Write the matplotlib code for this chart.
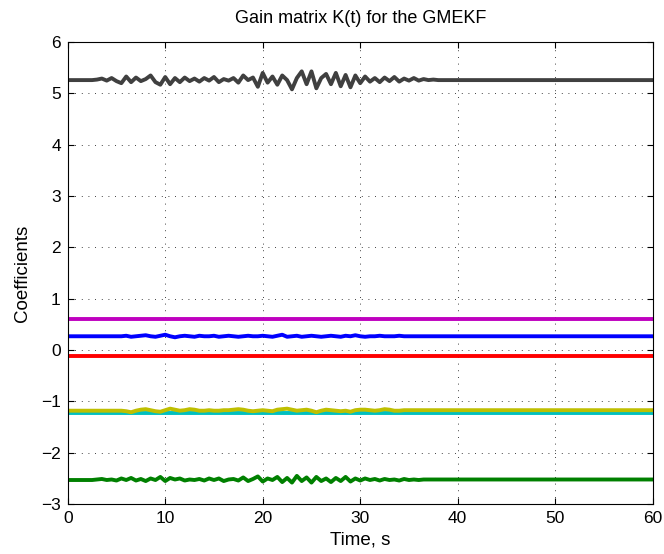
import matplotlib
matplotlib.use('Agg')
import matplotlib.pyplot as plt
import numpy as np

plt.rcParams['font.family'] = ['Liberation Sans', 'DejaVu Sans']

# time grid for the oscillating gains (0..40 s every 0.5 s, then 60 s)
t = list(np.arange(0, 40.5, 0.5)) + [60]

k_gray = [5.26, 5.26, 5.26, 5.26, 5.26, 5.26, 5.27, 5.29, 5.25, 5.30,
          5.24, 5.20, 5.33, 5.22, 5.31, 5.24, 5.28, 5.35, 5.22, 5.17,
          5.32, 5.18, 5.30, 5.22, 5.31, 5.24, 5.29, 5.23, 5.30, 5.25,
          5.32, 5.22, 5.28, 5.25, 5.30, 5.21, 5.35, 5.26, 5.31, 5.13,
          5.40, 5.21, 5.33, 5.17, 5.35, 5.26, 5.08, 5.30, 5.43, 5.18,
          5.43, 5.10, 5.30, 5.38, 5.18, 5.40, 5.14, 5.36, 5.12, 5.35,
          5.20, 5.33, 5.23, 5.30, 5.22, 5.31, 5.24, 5.32, 5.23, 5.29,
          5.25, 5.30, 5.25, 5.28, 5.26, 5.27, 5.26, 5.26, 5.26, 5.26,
          5.26, 5.26]

k_blue = [0.27, 0.27, 0.27, 0.27, 0.27, 0.27, 0.27, 0.27, 0.27, 0.27,
          0.27, 0.27, 0.28, 0.26, 0.27, 0.28, 0.29, 0.27, 0.26, 0.28,
          0.30, 0.27, 0.25, 0.27, 0.28, 0.27, 0.26, 0.28, 0.27, 0.27,
          0.28, 0.26, 0.27, 0.28, 0.27, 0.26, 0.27, 0.28, 0.27, 0.27,
          0.28, 0.27, 0.26, 0.28, 0.30, 0.26, 0.27, 0.28, 0.26, 0.27,
          0.28, 0.27, 0.26, 0.27, 0.28, 0.27, 0.26, 0.28, 0.27, 0.29,
          0.27, 0.26, 0.27, 0.27, 0.28, 0.27, 0.27, 0.27, 0.28, 0.27,
          0.27, 0.27, 0.27, 0.27, 0.27, 0.27, 0.27, 0.27, 0.27, 0.27,
          0.27, 0.27]

k_yellow = [-1.18, -1.18, -1.18, -1.18, -1.18, -1.18, -1.18, -1.18, -1.18, -1.18,
            -1.18, -1.18, -1.19, -1.21, -1.18, -1.16, -1.15, -1.17, -1.19, -1.20,
            -1.17, -1.14, -1.16, -1.18, -1.17, -1.15, -1.16, -1.18, -1.18, -1.17,
            -1.18, -1.18, -1.17, -1.17, -1.16, -1.15, -1.16, -1.18, -1.19, -1.18,
            -1.17, -1.18, -1.19, -1.16, -1.15, -1.14, -1.16, -1.18, -1.17, -1.16,
            -1.18, -1.21, -1.18, -1.16, -1.17, -1.18, -1.19, -1.18, -1.20, -1.17,
            -1.16, -1.16, -1.17, -1.18, -1.17, -1.15, -1.16, -1.18, -1.18, -1.17,
            -1.17, -1.17, -1.17, -1.17, -1.17, -1.17, -1.17, -1.17, -1.17, -1.17,
            -1.17, -1.17]

k_green = [-2.53, -2.53, -2.53, -2.53, -2.53, -2.53, -2.52, -2.51, -2.53, -2.52,
           -2.54, -2.50, -2.53, -2.49, -2.54, -2.51, -2.55, -2.50, -2.53, -2.47,
           -2.55, -2.49, -2.52, -2.50, -2.54, -2.52, -2.53, -2.51, -2.54, -2.50,
           -2.53, -2.50, -2.55, -2.52, -2.51, -2.54, -2.48, -2.55, -2.51, -2.46,
           -2.56, -2.50, -2.53, -2.47, -2.57, -2.49, -2.58, -2.45, -2.55, -2.48,
           -2.58, -2.47, -2.55, -2.50, -2.57, -2.49, -2.55, -2.47, -2.56, -2.50,
           -2.54, -2.50, -2.53, -2.51, -2.54, -2.51, -2.53, -2.52, -2.54, -2.51,
           -2.53, -2.52, -2.53, -2.52, -2.52, -2.52, -2.52, -2.52, -2.52, -2.52,
           -2.52, -2.52]

# constant gains
t_flat = [0, 60]
k_magenta = [0.60, 0.60]
k_red = [-0.12, -0.12]
k_cyan = [-1.23, -1.23]

fig = plt.figure(figsize=(6.64, 5.54), dpi=100)
ax = fig.add_axes([0.102, 0.090, 0.881, 0.834])

lw = 2.8
ax.plot(t, k_blue, color='#0000ff', lw=lw)
ax.plot(t, k_green, color='#008000', lw=lw)
ax.plot(t_flat, k_red, color='#ff0000', lw=lw)
ax.plot(t_flat, k_cyan, color='#00bfbf', lw=lw)
ax.plot(t_flat, k_magenta, color='#bf00bf', lw=lw)
ax.plot(t, k_yellow, color='#bfbf00', lw=lw)
ax.plot(t, k_gray, color='#404040', lw=lw)

ax.set_xlim(0, 60)
ax.set_ylim(-3, 6)
ax.set_xticks(range(0, 61, 10))
ax.set_yticks(range(-3, 7))
ax.grid(True, color='black', linestyle=(0, (1, 7)), linewidth=0.6)
ax.tick_params(direction='in', top=True, right=True, labelsize=12.5, length=4, pad=5)
for s in ax.spines.values():
    s.set_linewidth(0.8)

ax.set_title('Gain matrix K(t) for the GMEKF', fontsize=13, pad=14)
ax.set_xlabel('Time, s', fontsize=13.5, labelpad=4)
ax.set_ylabel('Coefficients', fontsize=13.5, labelpad=7)

fig.savefig('out.png', dpi=100)
